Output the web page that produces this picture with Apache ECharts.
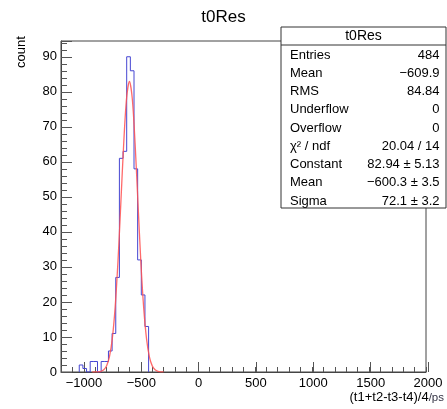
<!DOCTYPE html>
<html>
<head>
<meta charset="utf-8">
<script src="https://cdn.jsdelivr.net/npm/echarts@6/dist/echarts.min.js"></script>
<style>
html,body{margin:0;padding:0;background:#fff;}
#c{width:447px;height:409px;}
</style>
</head>
<body>
<div id="c"></div>
<script>
// ---- data ----
const histTitle = 't0Res';
const binWidth = 32;            // (2000 - -1200) / 100 bins
const firstBinLow = -1040;      // low edge of first filled bin
const counts = [2, 1, 0, 3, 3, 0, 3, 3, 6, 11, 27, 61, 63, 90, 86, 58, 32, 22, 13];
const fitX = [-925,-900,-875,-850,-825,-800,-775,-750,-725,-700,-675,-650,-625,-600,-575,-550,-525,-500,-475,-450,-425,-400,-375,-350,-325,-300];
const fitY = [0.003,0.015,0.058,0.21,0.65,1.79,4.41,9.61,18.6,31.9,48.5,65.4,78.2,82.94,78.0,65.0,48.1,31.5,18.3,9.44,4.31,1.75,0.63,0.20,0.056,0.014];
const xMin = -1200, xMax = 2000, xMajor = 500, xMinor = 100;
const yMin = 0, yMax = 94.5, yMajor = 10;
const xTitleMain = '(t1+t2-t3-t4)/4';
const xTitleUnit = '/ps';
const yTitle = 'count';
const statLabels = ['Entries', 'Mean', 'RMS', 'Underflow', 'Overflow', 'χ² / ndf', 'Constant', 'Mean', 'Sigma'];
const statValues = ['484', '−609.9', '84.84', '0', '0', '20.04 / 14', '82.94 ± 5.13', '−600.3 ± 3.5', '72.1 ± 3.2'];

// ---- build series data ----
const histData = [[firstBinLow, 0]];
counts.forEach((c, i) => histData.push([firstBinLow + i * binWidth, c]));
histData.push([firstBinLow + counts.length * binWidth, 0]);
const fitData = fitX.map((x, i) => [x, fitY[i]]);

// ---- layout ----
const W = 447, H = 409;
const gL = 61, gR = 19, gT = 41, gB = 37;
const plotW = W - gL - gR;
const firstMajor = Math.ceil(xMin / xMajor) * xMajor;
const g2L = gL + plotW * (firstMajor - xMin) / (xMax - xMin);
const FONT = '"Liberation Sans", Arial, Helvetica, sans-serif';
const minus = v => String(v).replace('-', '−');

// stats box
const bx = 281, by = 27, bw = 165, bh = 181;
const graphics = [
  {type: 'rect', z: 100, shape: {x: bx, y: by, width: bw, height: bh},
   style: {fill: '#fff', stroke: '#333', lineWidth: 1}},
  {type: 'line', z: 101, shape: {x1: bx, y1: 45, x2: bx + bw, y2: 45},
   style: {stroke: '#333', lineWidth: 1}},
  {type: 'text', z: 101, x: bx + bw / 2, y: 36.5,
   style: {text: histTitle, font: '14px ' + FONT, fill: '#000', textAlign: 'center', textVerticalAlign: 'middle'}},
  {type: 'text', z: 101, x: 21, y: 52, rotation: Math.PI / 2,
   style: {text: yTitle, font: '13px ' + FONT, fill: '#000', textAlign: 'center', textVerticalAlign: 'middle'}}
];
statLabels.forEach((lab, i) => {
  const yy = 55 + i * 18.25;
  graphics.push({type: 'text', z: 101, x: 290, y: yy,
    style: {text: lab, font: '13px ' + FONT, fill: '#000', textAlign: 'left', textVerticalAlign: 'middle'}});
  graphics.push({type: 'text', z: 101, x: 439.5, y: yy,
    style: {text: statValues[i], font: '13px ' + FONT, fill: '#000', textAlign: 'right', textVerticalAlign: 'middle'}});
});

const chart = echarts.init(document.getElementById('c'), null, {renderer: 'canvas'});
chart.setOption({
  animation: false,
  backgroundColor: '#fff',
  textStyle: {fontFamily: FONT},
  title: {text: histTitle, left: 'center', top: 4,
          textStyle: {fontSize: 17, fontWeight: 'normal', color: '#000', fontFamily: FONT}},
  grid: [
    {left: gL, right: gR, top: gT, bottom: gB, show: true, borderColor: '#444', borderWidth: 1, backgroundColor: 'transparent'},
    {left: g2L, right: gR, top: gT, bottom: gB, show: false}
  ],
  xAxis: [
    {type: 'value', gridIndex: 0, min: xMin, max: xMax, interval: xMinor,
     axisLine: {show: true, onZero: false, lineStyle: {color: '#444', width: 1}},
     axisTick: {show: true, inside: true, length: 5, lineStyle: {color: '#555'}},
     axisLabel: {show: false},
     splitLine: {show: false},
     name: xTitleMain + '{u|' + xTitleUnit + '}', nameLocation: 'end', nameGap: 18,
     nameTextStyle: {fontSize: 13, color: '#000', align: 'right', verticalAlign: 'top', padding: [19, 0, 0, 0],
                     rich: {u: {fontSize: 11.5, color: '#334', fontFamily: FONT}}}},
    {type: 'value', gridIndex: 1, min: firstMajor, max: xMax, interval: xMajor,
     axisLine: {show: false, onZero: false},
     axisTick: {show: true, inside: true, length: 10, lineStyle: {color: '#555'}},
     axisLabel: {show: true, margin: 5, fontSize: 13, color: '#000', formatter: minus},
     splitLine: {show: false}}
  ],
  yAxis: [
    {type: 'value', gridIndex: 0, min: yMin, max: yMax, interval: yMajor,
     axisLine: {show: true, onZero: false, lineStyle: {color: '#444', width: 1}},
     axisTick: {show: true, inside: true, length: 11, lineStyle: {color: '#555'}},
     minorTick: {show: true, splitNumber: 5, length: 6, lineStyle: {color: '#555'}},
     axisLabel: {show: true, margin: 4, fontSize: 13, color: '#000', showMaxLabel: false},
     splitLine: {show: false}, minorSplitLine: {show: false}},
    {type: 'value', gridIndex: 1, min: yMin, max: yMax, show: false, axisLine: {onZero: false}}
  ],
  series: [
    {type: 'line', xAxisIndex: 0, yAxisIndex: 0, data: histData, step: 'end',
     symbol: 'none', lineStyle: {color: '#4646d2', width: 1}, z: 3},
    {type: 'line', xAxisIndex: 0, yAxisIndex: 0, data: fitData, smooth: 0.3,
     symbol: 'none', lineStyle: {color: '#ff5050', width: 1.3, opacity: 0.85}, z: 4}
  ],
  graphic: graphics
});
</script>
</body>
</html>
